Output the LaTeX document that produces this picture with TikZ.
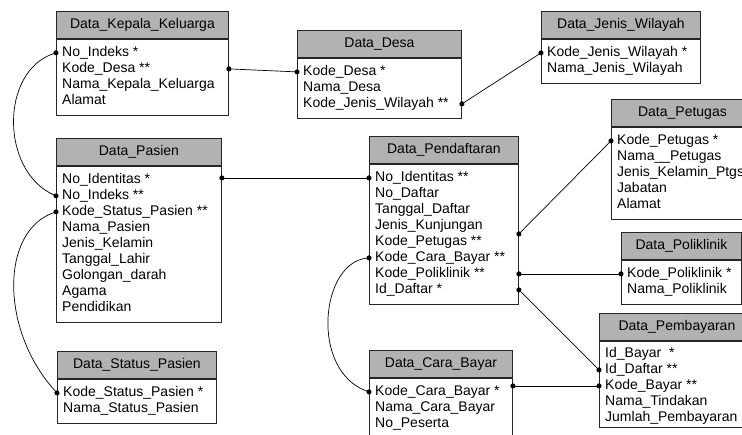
\documentclass[tikz,border=0pt]{standalone}
\usepackage{fontspec}
\setmainfont{Liberation Sans}
\usetikzlibrary{arrows.meta,calc}

\begin{document}
\begin{tikzpicture}[x=1pt, y=-1pt,
    font=\fontsize{14pt}{16pt}\selectfont,
    judul/.style={draw=black!85, line width=0.9pt, fill=black!30, anchor=north west,
        minimum height=27pt, inner sep=0pt},
    isi/.style={draw=black!85, line width=0.9pt, fill=white, anchor=north west, inner sep=0pt},
    baris/.style={anchor=west, inner xsep=6pt, inner ysep=0pt, text height=10pt, text depth=3pt},
    relasi/.style={line width=0.7pt, {Circle[length=5pt]}-{Circle[length=5pt]},
        shorten <=-2.5pt, shorten >=-2.5pt}]
    \useasboundingbox (0,0) rectangle (742,434);
    \clip (0,0) rectangle (742,434);

    % Data_Kepala_Keluarga
    \node[judul, minimum width=172pt] (kk) at (56,11) {Data\_Kepala\_Keluarga};
    \node[isi, minimum width=172pt, minimum height=76pt] (kk-isi) at (kk.south west) {};
    \foreach \teks [count=\i] in {No\_Indeks *, Kode\_Desa **, Nama\_Kepala\_Keluarga, Alamat}
        \node[baris] (kk-\i) at ([yshift={-14pt-16pt*(\i-1)}]kk-isi.north west) {\teks};

    % Data_Desa
    \node[judul, minimum width=164pt] (desa) at (297,30) {Data\_Desa};
    \node[isi, minimum width=164pt, minimum height=60pt] (desa-isi) at (desa.south west) {};
    \foreach \teks [count=\i] in {Kode\_Desa *, Nama\_Desa, Kode\_Jenis\_Wilayah **}
        \node[baris] (desa-\i) at ([yshift={-14pt-16pt*(\i-1)}]desa-isi.north west) {\teks};

    % Data_Jenis_Wilayah
    \node[judul, minimum width=159pt] (jw) at (541,11) {Data\_Jenis\_Wilayah};
    \node[isi, minimum width=159pt, minimum height=44pt] (jw-isi) at (jw.south west) {};
    \foreach \teks [count=\i] in {Kode\_Jenis\_Wilayah *, Nama\_Jenis\_Wilayah}
        \node[baris] (jw-\i) at ([yshift={-14pt-16pt*(\i-1)}]jw-isi.north west) {\teks};

    % Data_Petugas
    \node[judul, minimum width=142pt] (ptg) at (611,99) {Data\_Petugas};
    \node[isi, minimum width=142pt, minimum height=92pt] (ptg-isi) at (ptg.south west) {};
    \foreach \teks [count=\i] in {Kode\_Petugas *, Nama\_\_Petugas, Jenis\_Kelamin\_Ptgs, Jabatan, Alamat}
        \node[baris] (ptg-\i) at ([yshift={-14pt-16pt*(\i-1)}]ptg-isi.north west) {\teks};

    % Data_Pasien
    \node[judul, minimum width=165pt] (pasien) at (56,138) {Data\_Pasien};
    \node[isi, minimum width=165pt, minimum height=156pt] (pasien-isi) at (pasien.south west) {};
    \foreach \teks [count=\i] in {No\_Identitas *, No\_Indeks **, Kode\_Status\_Pasien **, Nama\_Pasien,
        Jenis\_Kelamin, Tanggal\_Lahir, Golongan\_darah, Agama, Pendidikan}
        \node[baris] (pasien-\i) at ([yshift={-14pt-16pt*(\i-1)}]pasien-isi.north west) {\teks};

    % Data_Pendaftaran
    \node[judul, minimum width=149pt] (daftar) at (369,136) {Data\_Pendaftaran};
    \node[isi, minimum width=149pt, minimum height=140pt] (daftar-isi) at (daftar.south west) {};
    \foreach \teks [count=\i] in {No\_Identitas **, No\_Daftar, Tanggal\_Daftar, Jenis\_Kunjungan,
        Kode\_Petugas **, Kode\_Cara\_Bayar **, Kode\_Poliklinik **, Id\_Daftar *}
        \node[baris] (daftar-\i) at ([yshift={-14pt-16pt*(\i-1)}]daftar-isi.north west) {\teks};

    % Data_Poliklinik
    \node[judul, minimum width=120pt] (poli) at (621,232) {Data\_Poliklinik};
    \node[isi, minimum width=120pt, minimum height=44pt] (poli-isi) at (poli.south west) {};
    \foreach \teks [count=\i] in {Kode\_Poliklinik *, Nama\_Poliklinik}
        \node[baris] (poli-\i) at ([yshift={-14pt-16pt*(\i-1)}]poli-isi.north west) {\teks};

    % Data_Status_Pasien
    \node[judul, minimum width=159pt] (status) at (57,351) {Data\_Status\_Pasien};
    \node[isi, minimum width=159pt, minimum height=44pt] (status-isi) at (status.south west) {};
    \foreach \teks [count=\i] in {Kode\_Status\_Pasien *, Nama\_Status\_Pasien}
        \node[baris] (status-\i) at ([yshift={-14pt-16pt*(\i-1)}]status-isi.north west) {\teks};

    % Data_Cara_Bayar
    \node[judul, minimum width=143pt] (cara) at (369,350) {Data\_Cara\_Bayar};
    \node[isi, minimum width=143pt, minimum height=60pt] (cara-isi) at (cara.south west) {};
    \foreach \teks [count=\i] in {Kode\_Cara\_Bayar *, Nama\_Cara\_Bayar, No\_Peserta}
        \node[baris] (cara-\i) at ([yshift={-14pt-16pt*(\i-1)}]cara-isi.north west) {\teks};

    % Data_Pembayaran
    \node[judul, minimum width=155pt] (bayar) at (599,313) {Data\_Pembayaran};
    \node[isi, minimum width=155pt, minimum height=86pt] (bayar-isi) at (bayar.south west) {};
    \foreach \teks [count=\i] in {Id\_Bayar~~*, Id\_Daftar **, Kode\_Bayar **, Nama\_Tindakan, Jumlah\_Pembayaran}
        \node[baris] (bayar-\i) at ([yshift={-13pt-16pt*(\i-1)}]bayar-isi.north west) {\teks};

    % Relasi
    \coordinate (daftar-ptg) at ($(daftar-4 -| daftar-isi.east)!0.5!(daftar-5 -| daftar-isi.east)$);
    \draw[relasi] (kk-2 -| kk-isi.east) -- (desa-1.west);
    \draw[relasi] (desa-3 -| desa-isi.east) -- (jw-1.west);
    \draw[relasi] (kk-1.west) .. controls +(-56,18) and +(-56,-25) .. (pasien-2.west);
    \draw[relasi] (pasien-3.west) .. controls +(-56,19) and +(-57,-62) .. (status-1.west);
    \draw[relasi] (daftar-1 -| pasien-isi.east) -- (daftar-1.west);
    \draw[relasi] (daftar-ptg) -- (ptg-1.west);
    \draw[relasi] (daftar-7 -| daftar-isi.east) -- (poli-1.west);
    \draw[relasi] (daftar-8 -| daftar-isi.east) -- (bayar-2.west);
    \draw[relasi] (daftar-6.west) .. controls +(-49,5) and +(-59,-21) .. (cara-1.west);
    \draw[relasi] (bayar-3 -| cara-isi.east) -- (bayar-3.west);
\end{tikzpicture}
\end{document}
